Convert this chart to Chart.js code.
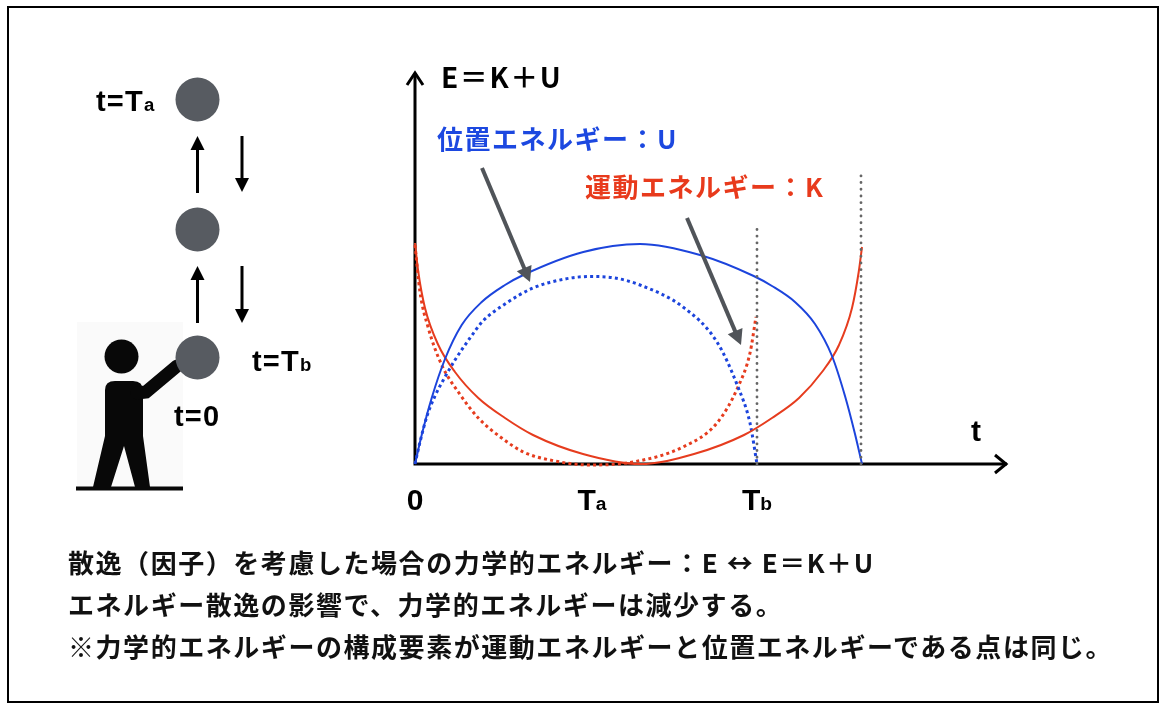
<!DOCTYPE html>
<html>
<head>
<meta charset="utf-8">
<script src="https://cdn.jsdelivr.net/npm/chart.js@4.4.1/dist/chart.umd.min.js"></script>
<style>
  body { margin: 0; background: #fff; }
  #wrap { position: relative; width: 1164px; height: 710px; overflow: hidden; }
  #c { position: absolute; left: 0; top: 0; }
  .frame { position: absolute; left: 7px; top: 6px; width: 1148px; height: 693px; border: 2px solid #000; }
  .t { position: absolute; white-space: nowrap; font-weight: 700; }
  .jp { font-family: "Noto Sans CJK JP", sans-serif; }
  .lat { font-family: "Liberation Sans", Arial, sans-serif; }
  .sub { font-size: 0.64em; }
  .lbl { font-size: 29px; line-height: 29px; letter-spacing: 1.2px; }
  .note { left: 68px; font-size: 26px; line-height: 26px; letter-spacing: 1.55px; color: #111; }
</style>
</head>
<body>
<div id="wrap">
  <div class="frame"></div>
  <canvas id="c" width="1164" height="710"></canvas>

  <div class="t jp" style="left:441px; top:62px; font-size:28px; line-height:28px; letter-spacing:1.6px;">E＝K＋U</div>
  <div class="t jp" style="left:437px; top:125px; font-size:26px; line-height:26px; letter-spacing:1.5px; color:#1c48e0;">位置エネルギー：U</div>
  <div class="t jp" style="left:585px; top:173px; font-size:26px; line-height:26px; letter-spacing:1.5px; color:#e83a1c;">運動エネルギー：K</div>
  <div class="t lat" style="left:971px; top:416px; font-size:30px; line-height:30px;">t</div>

  <div class="t lat lbl" style="left:96px; top:87px;">t=T<span class="sub">a</span></div>
  <div class="t lat lbl" style="left:252px; top:347px;">t=T<span class="sub">b</span></div>
  <div class="t lat lbl" style="left:174px; top:402px;">t=0</div>

  <div class="t jp note" style="top:549px;">散逸（因子）を考慮した場合の力学的エネルギー：E ↔ E＝K＋U</div>
  <div class="t jp note" style="top:591px;">エネルギー散逸の影響で、力学的エネルギーは減少する。</div>
  <div class="t jp note" style="top:633px;">※力学的エネルギーの構成要素が運動エネルギーと位置エネルギーである点は同じ。</div>
</div>

<script>
// values (time on x, energy on y, arbitrary units)
const timeU = [0, 6.7, 16.7, 30, 46.7, 66.7, 90, 108.3, 168.3, 225, 285, 338.7, 357, 380, 400, 417, 430, 440, 447];
const potentialU = [0, 29, 66, 105, 139, 162, 179, 189, 212, 220, 209, 188, 178, 162, 140, 108, 68, 30, 0];

const timeK = [0, 3.3, 10, 23.3, 40, 63.3, 90, 118, 168, 225, 279, 329, 357, 384, 407, 424, 437, 443.7, 447];
const kineticK = [221, 192, 156, 119, 92, 66, 46, 29, 10, 0, 10, 29, 46, 66, 92, 119, 156, 192, 217];

// with dissipation
const timeUd = [0, 5, 12, 20, 30, 40, 55, 68, 90, 118, 150, 175, 200, 225, 268, 302, 323, 335, 342];
const potentialUd = [0, 22, 48, 68, 87, 104, 126, 143, 160, 176, 185, 187.5, 186, 179, 157, 122, 77, 41, 0];

const timeKd = [0, 5, 13.3, 26.7, 43.3, 63.3, 86.7, 108.3, 135, 175, 218, 268, 302, 323, 335, 341];
const kineticKd = [219, 172, 136, 99, 72, 46, 26, 12, 4, -1, 2, 17, 41, 77, 111, 147];

// x axis ticks: 0, Ta, Tb
const tickValues = [0, 177, 342];
const tickMain = ['0', 'T', 'T'];
const tickSub = ['', 'a', 'b'];

// dotted guide lines at Tb and at the end of the lossless motion
const guideX = [342, 446];
const guideTop = [239, 291];

const BLUE = '#1c44dc';
const RED = '#e63c1e';

function pts(xs, ys) {
    return xs.map((x, i) => ({ x: x, y: ys[i] }));
}

function arrowHead(ctx, x1, y1, x2, y2, len, half) {
    const ang = Math.atan2(y2 - y1, x2 - x1);
    ctx.beginPath();
    ctx.moveTo(x2, y2);
    ctx.lineTo(x2 - len * Math.cos(ang) + half * Math.sin(ang), y2 - len * Math.sin(ang) - half * Math.cos(ang));
    ctx.lineTo(x2 - len * Math.cos(ang) - half * Math.sin(ang), y2 - len * Math.sin(ang) + half * Math.cos(ang));
    ctx.closePath();
    ctx.fill();
}

function solidArrow(ctx, x1, y1, x2, y2, w, len, half) {
    const ang = Math.atan2(y2 - y1, x2 - x1);
    ctx.lineWidth = w;
    ctx.beginPath();
    ctx.moveTo(x1, y1);
    ctx.lineTo(x2 - (len - 1) * Math.cos(ang), y2 - (len - 1) * Math.sin(ang));
    ctx.stroke();
    arrowHead(ctx, x1, y1, x2, y2, len, half);
}

// left illustration: thrower, ball positions, up / down arrows
const scene = {
    id: 'scene',
    beforeDraw(chart) {
        const ctx = chart.ctx;
        ctx.save();
        ctx.fillStyle = '#fafafa';
        ctx.fillRect(77, 322, 106, 165);

        ctx.fillStyle = '#080808';
        ctx.strokeStyle = '#080808';
        // head
        ctx.beginPath();
        ctx.arc(121.5, 356.5, 17, 0, Math.PI * 2);
        ctx.fill();
        // torso
        ctx.beginPath();
        ctx.moveTo(105, 440);
        ctx.lineTo(105, 390);
        ctx.quadraticCurveTo(105, 381, 115, 381);
        ctx.lineTo(133, 381);
        ctx.quadraticCurveTo(143, 381, 143, 391);
        ctx.lineTo(143, 440);
        ctx.closePath();
        ctx.fill();
        // legs
        ctx.beginPath();
        ctx.moveTo(105, 436);
        ctx.lineTo(143, 436);
        ctx.lineTo(150, 487);
        ctx.lineTo(135, 487);
        ctx.lineTo(124, 446);
        ctx.lineTo(111, 487);
        ctx.lineTo(93, 487);
        ctx.closePath();
        ctx.fill();
        // arm
        ctx.lineWidth = 13;
        ctx.lineCap = 'round';
        ctx.beginPath();
        ctx.moveTo(137, 393);
        ctx.lineTo(146, 392);
        ctx.lineTo(177, 366);
        ctx.stroke();
        // ground
        ctx.lineCap = 'butt';
        ctx.lineWidth = 4;
        ctx.beginPath();
        ctx.moveTo(76, 488.5);
        ctx.lineTo(183, 488.5);
        ctx.stroke();

        // balls
        ctx.fillStyle = '#575b61';
        [99.5, 229.5, 357.5].forEach(cy => {
            ctx.beginPath();
            ctx.arc(197.5, cy, 22, 0, Math.PI * 2);
            ctx.fill();
        });

        // motion arrows
        ctx.fillStyle = '#000';
        ctx.strokeStyle = '#000';
        solidArrow(ctx, 197.5, 193, 197.5, 136, 3, 14, 7);
        solidArrow(ctx, 197.5, 323, 197.5, 266, 3, 14, 7);
        solidArrow(ctx, 242, 136, 242, 192, 3, 14, 7);
        solidArrow(ctx, 242, 266, 242, 323, 3, 14, 7);
        ctx.restore();
    },
    beforeDatasetsDraw(chart) {
        const { ctx, chartArea: a } = chart;
        ctx.save();
        ctx.strokeStyle = '#000';
        ctx.lineWidth = 3;
        ctx.beginPath();
        ctx.moveTo(a.left, a.top + 1);
        ctx.lineTo(a.left, a.bottom);
        ctx.lineTo(a.right, a.bottom);
        ctx.stroke();
        ctx.lineJoin = 'miter';
        ctx.beginPath();
        ctx.moveTo(a.left - 8, a.top + 13);
        ctx.lineTo(a.left, a.top + 1);
        ctx.lineTo(a.left + 8, a.top + 13);
        ctx.stroke();
        ctx.beginPath();
        ctx.moveTo(a.right - 12, a.bottom - 9);
        ctx.lineTo(a.right - 1, a.bottom);
        ctx.lineTo(a.right - 12, a.bottom + 9);
        ctx.stroke();
        ctx.restore();
    },
    afterDatasetsDraw(chart) {
        const { ctx, scales: { x, y } } = chart;
        ctx.save();
        ctx.strokeStyle = '#505459';
        ctx.fillStyle = '#505459';
        // label pointers (data units)
        solidArrow(ctx, x.getPixelForValue(67), y.getPixelForValue(296),
            x.getPixelForValue(115), y.getPixelForValue(182), 4, 15, 8);
        solidArrow(ctx, x.getPixelForValue(272), y.getPixelForValue(246),
            x.getPixelForValue(326), y.getPixelForValue(119), 4, 15, 8);
        ctx.restore();
    }
};

const curve = (data, color, dotted) => ({
    data: data,
    borderColor: color,
    borderWidth: dotted ? 3 : 2,
    borderDash: dotted ? [3, 3.2] : [],
    pointRadius: 0,
    cubicInterpolationMode: 'monotone',
    fill: false,
    clip: false
});

const guides = guideX.map((gx, i) => ({
    data: [{ x: gx, y: 0 }, { x: gx, y: guideTop[i] }],
    borderColor: '#666',
    borderWidth: 2.8,
    borderDash: [0.1, 6.6],
    borderCapStyle: 'round',
    pointRadius: 0,
    fill: false,
    clip: false
}));

const chart = new Chart(document.getElementById('c'), {
    type: 'line',
    data: {
        datasets: [
            ...guides,
            curve(pts(timeU, potentialU), BLUE, false),
            curve(pts(timeK, kineticK), RED, false),
            curve(pts(timeUd, potentialUd), BLUE, true),
            curve(pts(timeKd, kineticKd), RED, true)
        ]
    },
    options: {
        responsive: false,
        animation: false,
        devicePixelRatio: 1,
        events: [],
        layout: { padding: { left: 415, top: 72, right: 157, bottom: 246 } },
        scales: {
            x: { type: 'linear', min: 0, max: 592, display: false },
            y: { type: 'linear', min: 0, max: 392, display: false }
        },
        plugins: { legend: { display: false }, tooltip: { enabled: false } }
    },
    plugins: [scene]
});

// tick labels placed by the x scale
const wrap = document.getElementById('wrap');
tickValues.forEach((v, i) => {
    const d = document.createElement('div');
    d.className = 't lat';
    d.style.fontSize = '30px';
    d.style.lineHeight = '30px';
    d.style.top = (chart.chartArea.bottom + 21) + 'px';
    d.style.left = chart.scales.x.getPixelForValue(v) + 'px';
    d.style.transform = 'translateX(-50%)';
    d.innerHTML = tickMain[i] + (tickSub[i] ? '<span class="sub">' + tickSub[i] + '</span>' : '');
    wrap.appendChild(d);
});
</script>
</body>
</html>
